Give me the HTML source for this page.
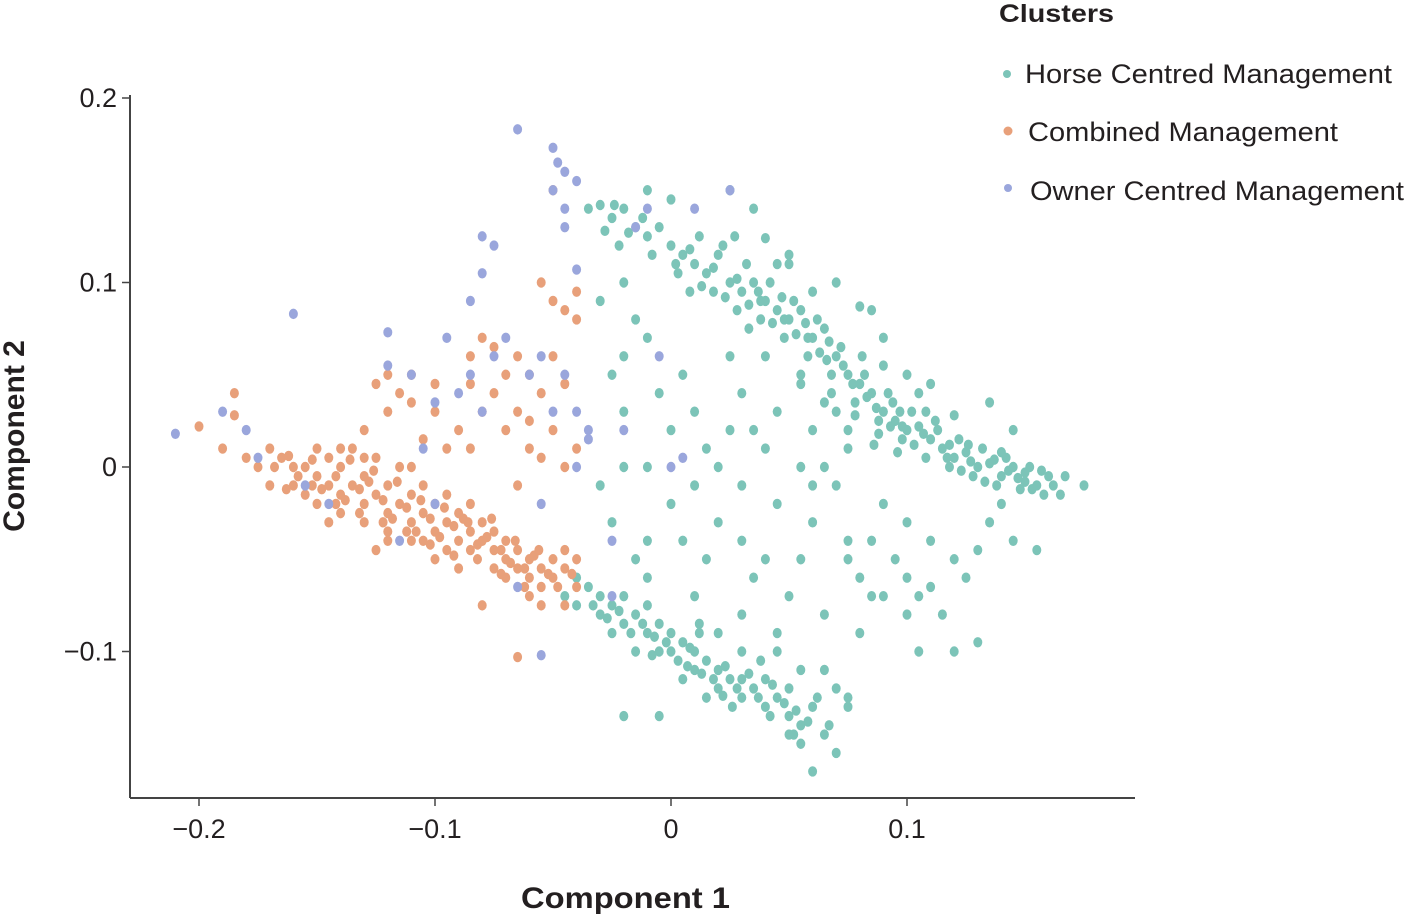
<!DOCTYPE html>
<html><head><meta charset="utf-8"><style>
html,body{margin:0;padding:0;background:#fff;width:1405px;height:916px;overflow:hidden}
svg{display:block;font-family:"Liberation Sans",Arial,sans-serif}
</style></head><body>
<svg id="chart" width="1405" height="916">
<g id="axes">
<line x1="130" y1="95" x2="130" y2="798" stroke="#444" stroke-width="2"/>
<line x1="130" y1="798" x2="1135" y2="798" stroke="#444" stroke-width="2"/>
</g>
<g id="ticks"></g>
<g id="points"></g>
<text x="521" y="908" textLength="209" lengthAdjust="spacingAndGlyphs" font-size="30" font-weight="bold" fill="#231f20">Component 1</text>
<text transform="translate(24,436) rotate(-90)" text-anchor="middle" font-size="30" font-weight="bold" fill="#231f20">Component 2</text>
<g>
<text x="999" y="22" textLength="115" lengthAdjust="spacingAndGlyphs" font-size="25" font-weight="bold" fill="#231f20">Clusters</text>
<g><circle cx="1007" cy="74" r="4" fill="#7cc4b8"/><text x="1025" y="83" textLength="367" lengthAdjust="spacingAndGlyphs" font-size="27" fill="#231f20">Horse Centred Management</text></g>
<g><circle cx="1008" cy="131" r="4.5" fill="#e8a07a"/><text x="1028" y="141" textLength="310" lengthAdjust="spacingAndGlyphs" font-size="27" fill="#231f20">Combined Management</text></g>
<g><circle cx="1008" cy="188" r="4" fill="#9aa6dc"/><text x="1030" y="200" textLength="374" lengthAdjust="spacingAndGlyphs" font-size="27" fill="#231f20">Owner Centred Management</text></g>
</g>
</svg>
<script>
const xTicks = [-0.2, -0.1, 0, 0.1];
const xTickLabels = ["\u22120.2", "\u22120.1", "0", "0.1"];
const yTicks = [0.2, 0.1, 0, -0.1];
const yTickLabels = ["0.2", "0.1", "0", "\u22120.1"];
const teal = [
-0.035,0.14,-0.03,0.142,-0.025,0.135,-0.02,0.14,-0.015,0.13,-0.01,0.125,-0.028,0.128,-0.022,0.12,-0.005,0.13,0,0.12,0.005,0.115,0.01,0.11,0.015,0.105,0.02,0.115,0.025,0.1,0.03,0.095,0.035,0.1,0.04,0.09,0.045,0.085,0.05,0.08,0.055,0.085,0.06,0.07,0.065,0.075,0.07,0.06,0.075,0.05,0.08,0.045,0.085,0.04,0.09,0.03,0.095,0.025,0.1,0.02,0.105,0.022,0.11,0.015,0.115,0.01,0.12,0.005,0.125,0.008,0.13,0.0,0.135,0.002,0.14,-0.005,0.145,0.0,0.15,-0.008,0.155,-0.01,0.16,-0.005,0.165,-0.015,0.175,-0.01,0.152,0.0,0.142,0.005,0.132,0.01,0.122,0.015,0.112,0.025,0.102,0.03,0.092,0.04,0.082,0.05,0.072,0.065,0.062,0.08,0.052,0.09,0.042,0.1,0.032,0.11,0.022,0.12,0.012,0.125,0.002,0.11,-0.008,0.115,0.018,0.095,0.028,0.085,0.038,0.08,0.048,0.07,0.058,0.06,0.068,0.05,0.078,0.035,0.088,0.025,0.098,0.015,0.108,0.005,0.118,0.0,0.128,-0.005,0.138,-0.01,0.148,-0.012,0.158,-0.015,0.086,0.012,0.096,0.008,0.075,0.02,0.065,0.035,0.055,0.045,0.045,0.11,0.06,0.095,0.08,0.087,0.1,0.05,0.105,0.04,0.027,0.125,0.04,0.124,0.05,0.11,0.09,0.07,0.11,0.045,0.135,0.035,0.145,0.02,0.12,0.028,0.035,0.14,0.025,0.15,0.0,0.145,-0.01,0.15,
0.003,0.105,0.008,0.118,0.013,0.098,0.018,0.108,0.023,0.092,0.028,0.102,0.033,0.088,0.037,0.095,0.043,0.078,0.047,0.092,0.053,0.072,0.057,0.078,0.063,0.062,0.067,0.068,0.073,0.055,0.077,0.045,0.083,0.038,0.087,0.032,0.093,0.022,0.097,0.03,0.103,0.012,0.107,0.018,0.113,0.02,0.117,0.005,0.123,-0.002,0.127,0.003,0.133,-0.008,0.137,0.004,0.143,-0.002,0.147,-0.006,0.153,-0.012,0.157,-0.002,0.162,-0.01,0.167,-0.005,0.118,0.012,0.098,0.022,0.088,0.018,0.078,0.028,0.068,0.04,0.058,0.07,0.048,0.08,0.038,0.09,-0.012,0.135,-0.018,0.127,-0.024,0.142,0.008,0.095,0.033,0.075,0.066,0.058,0.094,0.035,0.126,0.012,0.14,0.008,0.15,-0.003,0.108,0.03,0.081,0.06,
-0.04,-0.06,-0.035,-0.065,-0.03,-0.07,-0.03,-0.08,-0.025,-0.075,-0.02,-0.07,-0.02,-0.085,-0.015,-0.08,-0.01,-0.075,-0.01,-0.09,-0.005,-0.085,0,-0.09,0,-0.1,0.005,-0.095,0.01,-0.1,0.01,-0.11,0.015,-0.105,0.02,-0.11,0.02,-0.12,0.025,-0.115,0.03,-0.115,0.03,-0.125,0.035,-0.12,0.04,-0.115,0.04,-0.13,0.045,-0.125,0.05,-0.12,0.05,-0.135,0.055,-0.14,0.06,-0.13,0.055,-0.15,0.05,-0.145,0.06,-0.165,0.07,-0.155,0.065,-0.145,0.07,-0.12,0.075,-0.125,0.075,-0.13,-0.015,-0.1,-0.025,-0.09,-0.005,-0.1,0.005,-0.115,-0.045,-0.07,-0.02,-0.135,-0.005,-0.135,0.02,-0.09,0.03,-0.1,0.045,-0.1,0.055,-0.11,0.065,-0.11,0.038,-0.105,0.015,-0.125,-0.04,-0.075,0.012,-0.09,0.026,-0.13,
-0.033,-0.075,-0.027,-0.082,-0.022,-0.078,-0.017,-0.09,-0.012,-0.085,-0.007,-0.092,-0.002,-0.095,0.003,-0.105,0.008,-0.098,0.013,-0.112,0.018,-0.115,0.023,-0.108,0.028,-0.12,0.033,-0.112,0.037,-0.125,0.043,-0.118,0.048,-0.128,0.053,-0.132,0.058,-0.138,0.062,-0.125,0.067,-0.14,-0.008,-0.102,0.007,-0.108,0.022,-0.124,0.042,-0.135,0.052,-0.145,
-0.03,0.09,-0.02,0.1,-0.015,0.08,-0.025,0.05,-0.02,0.03,-0.02,0.0,-0.03,-0.01,-0.025,-0.03,-0.015,-0.05,-0.02,0.06,-0.01,0.07,-0.005,0.04,0.0,0.02,-0.01,0.0,0.0,-0.02,-0.01,-0.04,0.005,0.05,0.01,0.03,0.015,0.01,0.01,-0.01,0.02,-0.03,0.015,-0.05,0.01,-0.07,0.025,0.06,0.03,0.04,0.025,0.02,0.03,-0.01,0.03,-0.04,0.035,-0.06,0.03,-0.08,0.04,0.06,0.045,0.03,0.04,0.01,0.045,-0.02,0.04,-0.05,0.05,-0.07,0.045,-0.09,0.055,0.05,0.06,0.02,0.055,0.0,0.06,-0.03,0.055,-0.05,0.065,-0.08,0.07,0.03,0.075,0.01,0.07,-0.01,0.075,-0.04,0.08,-0.06,0.085,-0.07,0.08,-0.09,0.09,-0.02,0.085,-0.04,0.095,-0.05,0.1,-0.03,0.1,-0.06,0.105,-0.07,0.11,-0.04,0.115,-0.08,0.12,-0.05,0.125,-0.06,0.13,-0.045,0.13,-0.095,0.12,-0.1,0.135,-0.03,0.145,-0.04,0.155,-0.045,0.14,-0.02,0.09,0.055,0.085,0.085,0.07,0.1,0.05,0.115,0.06,-0.01,0.065,0.0,0.075,-0.05,0.09,-0.07,0.1,-0.08,0.105,-0.1,0.11,-0.065,0.012,-0.085,-0.01,-0.06,0.005,-0.04,0.02,0.0,0.035,0.02
];
const orange = [
-0.2,0.022,-0.19,0.01,-0.185,0.028,-0.18,0.005,-0.175,0.0,-0.17,0.01,-0.165,0.005,-0.16,-0.01,-0.155,0.0,-0.15,-0.005,-0.15,0.01,-0.145,-0.01,-0.145,0.005,-0.14,-0.015,-0.14,0.0,-0.135,-0.01,-0.135,0.01,-0.13,-0.02,-0.13,-0.005,-0.125,-0.015,-0.125,0.005,-0.12,-0.025,-0.12,-0.01,-0.115,-0.02,-0.115,0.0,-0.11,-0.03,-0.11,-0.015,-0.105,-0.025,-0.105,-0.01,-0.1,-0.035,-0.1,-0.02,-0.095,-0.03,-0.095,-0.015,-0.09,-0.04,-0.09,-0.025,-0.085,-0.035,-0.085,-0.045,-0.08,-0.03,-0.08,-0.04,-0.075,-0.045,-0.075,-0.035,-0.07,-0.05,-0.07,-0.04,-0.065,-0.055,-0.065,-0.045,-0.06,-0.05,-0.06,-0.06,-0.055,-0.055,-0.055,-0.065,-0.05,-0.05,-0.05,-0.06,-0.045,-0.055,-0.045,-0.045,-0.04,-0.05,-0.04,-0.065,-0.055,-0.075,-0.045,-0.075,-0.06,-0.07,-0.09,-0.055,-0.1,-0.05,-0.11,-0.04,-0.12,-0.035,-0.13,-0.03,-0.14,-0.025,-0.155,-0.015,-0.16,0.0,-0.17,-0.01,-0.15,-0.02,-0.08,-0.075,-0.065,-0.103,-0.12,-0.04,-0.095,-0.045,-0.075,-0.055,-0.085,-0.02,-0.105,-0.04,-0.11,0.0,-0.13,0.005,-0.14,0.01,-0.125,-0.045,-0.145,-0.03,-0.07,-0.06,-0.185,0.04,
-0.168,0.0,-0.162,0.006,-0.158,-0.005,-0.152,0.004,-0.148,-0.012,-0.142,-0.005,-0.138,-0.018,-0.132,-0.012,-0.128,-0.008,-0.122,-0.018,-0.118,-0.028,-0.112,-0.022,-0.108,-0.035,-0.102,-0.028,-0.098,-0.038,-0.092,-0.032,-0.088,-0.028,-0.082,-0.042,-0.078,-0.038,-0.072,-0.045,-0.068,-0.052,-0.062,-0.055,-0.058,-0.048,-0.052,-0.058,-0.048,-0.065,-0.042,-0.058,-0.062,-0.065,-0.072,-0.058,-0.082,-0.05,-0.092,-0.048,-0.102,-0.042,-0.112,-0.035,-0.122,-0.03,-0.132,-0.025,-0.142,-0.02,-0.152,-0.01,-0.163,-0.012,-0.136,0.004,-0.126,-0.002,-0.116,-0.008,-0.106,-0.018,-0.096,-0.022,-0.086,-0.03,-0.076,-0.028,-0.066,-0.04,-0.056,-0.045,
-0.12,0.05,-0.125,0.045,-0.115,0.04,-0.11,0.035,-0.1,0.03,-0.105,0.015,-0.09,0.02,-0.085,0.045,-0.08,0.07,-0.075,0.065,-0.075,0.04,-0.07,0.05,-0.07,0.02,-0.065,0.03,-0.06,0.05,-0.06,0.01,-0.055,0.04,-0.05,0.02,-0.05,0.06,-0.045,0.045,-0.05,0.09,-0.045,0.085,-0.04,0.08,-0.055,0.1,-0.05,0.15,-0.12,0.03,-0.095,0.01,-0.085,0.01,-0.065,0.06,-0.08,0.03,-0.13,0.02,-0.1,0.045,-0.065,-0.01,-0.055,0.005,-0.045,0.0,-0.04,0.01,-0.06,0.025,-0.085,0.06,-0.11,0.05,-0.04,0.095
];
const purple = [
-0.21,0.018,-0.19,0.03,-0.18,0.02,-0.175,0.005,-0.16,0.083,-0.155,-0.01,-0.145,-0.02,-0.12,0.073,-0.12,0.055,-0.11,0.05,-0.105,0.01,-0.1,0.035,-0.1,-0.02,-0.115,-0.04,-0.095,0.07,-0.09,0.04,-0.085,0.05,-0.085,0.09,-0.08,0.125,-0.075,0.12,-0.08,0.105,-0.08,0.03,-0.075,0.06,-0.07,0.07,-0.065,0.183,-0.05,0.173,-0.048,0.165,-0.045,0.16,-0.05,0.15,-0.045,0.14,-0.04,0.155,-0.045,0.13,-0.04,0.107,-0.06,0.05,-0.055,0.06,-0.05,0.03,-0.045,0.05,-0.04,0.03,-0.035,0.02,-0.04,0.0,-0.035,0.015,-0.055,-0.02,-0.065,-0.065,-0.055,-0.102,-0.015,0.13,-0.01,0.14,0.025,0.15,0.01,0.14,-0.005,0.06,-0.02,0.02,-0.025,-0.04,0.0,0.0,0.005,0.005,-0.025,-0.07
];
const NS = "http://www.w3.org/2000/svg";
function xScale(v){ return 671 + v * 2360; }
function yScale(v){ return 467 - v * 1845; }
const tg = document.getElementById('ticks');
xTicks.forEach((t,i)=>{
  const l = document.createElementNS(NS,'line');
  l.setAttribute('x1',xScale(t)); l.setAttribute('x2',xScale(t));
  l.setAttribute('y1',798); l.setAttribute('y2',806);
  l.setAttribute('stroke','#444'); l.setAttribute('stroke-width','1.5');
  
  
  tg.appendChild(l);
  const tx = document.createElementNS(NS,'text');
  tx.setAttribute('x',xScale(t)); tx.setAttribute('y',838);
  tx.setAttribute('text-anchor','middle'); tx.setAttribute('font-size','27'); tx.setAttribute('fill','#231f20');
  tx.textContent = xTickLabels[i];
  
  
  tg.appendChild(tx);
});
yTicks.forEach((t,i)=>{
  const l = document.createElementNS(NS,'line');
  l.setAttribute('x1',122); l.setAttribute('x2',130);
  l.setAttribute('y1',yScale(t)); l.setAttribute('y2',yScale(t));
  l.setAttribute('stroke','#444'); l.setAttribute('stroke-width','1.5');
  
  
  tg.appendChild(l);
  const tx = document.createElementNS(NS,'text');
  tx.setAttribute('x',117); tx.setAttribute('y',yScale(t)+9);
  tx.setAttribute('text-anchor','end'); tx.setAttribute('font-size','27'); tx.setAttribute('fill','#231f20');
  tx.textContent = yTickLabels[i];
  
  
  tg.appendChild(tx);
});
const pg = document.getElementById('points');
function drawSeries(arr, color, name){
  for(let i=0;i<arr.length;i+=2){
    const c = document.createElementNS(NS,'ellipse');
    c.setAttribute('cx', xScale(arr[i]));
    c.setAttribute('cy', yScale(arr[i+1]));
    c.setAttribute('rx', 4.5); c.setAttribute('ry', 5.2);
    c.setAttribute('fill', color);
    
    
    pg.appendChild(c);
  }
}
drawSeries(teal, '#7cc4b8', 'point-horse-centred');
drawSeries(orange, '#e8a07a', 'point-combined');
drawSeries(purple, '#9aa6dc', 'point-owner-centred');
</script>
</body></html>
